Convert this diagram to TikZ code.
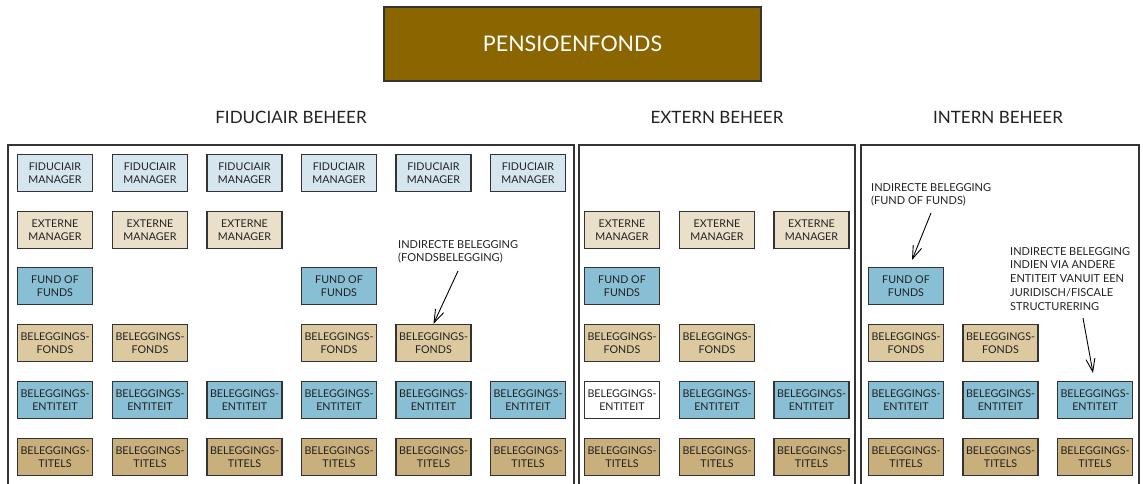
\documentclass[tikz,border=0pt]{standalone}
\usepackage{fontspec}
\setmainfont{Lato}
\usetikzlibrary{arrows.meta}
\definecolor{titlebg}{HTML}{8B6600}
\definecolor{fidc}{HTML}{D6E6EE}
\definecolor{extc}{HTML}{EAE0CA}
\definecolor{bluec}{HTML}{89BFD4}
\definecolor{fondc}{HTML}{DCC9A0}
\definecolor{titc}{HTML}{C8AF7C}
\definecolor{edge}{HTML}{333333}
\definecolor{txt}{HTML}{222222}
\begin{document}
\begin{tikzpicture}[x=1pt,y=-1pt,
  cell/.style={draw=edge,line width=1.3pt,minimum width=75pt,minimum height=37pt,inner sep=0pt,
    align=center,font=\fontsize{10.7}{13}\selectfont,text=txt},
  fid/.style={cell,fill=fidc},
  ext/.style={cell,fill=extc},
  fof/.style={cell,fill=bluec},
  fon/.style={cell,fill=fondc},
  ent/.style={cell,fill=bluec},
  entw/.style={cell,fill=white},
  tit/.style={cell,fill=titc},
  frame/.style={draw=edge,line width=1.3pt},
  sect/.style={font=\fontsize{17}{20}\selectfont,text=txt},
  note/.style={align=left,anchor=north west,inner sep=0pt,font=\fontsize{11}{13.8}\selectfont,text=txt},
  arr/.style={-{Straight Barb[length=13pt,width=9pt]},line width=0.9pt,black}]
\useasboundingbox (0,0) rectangle (1143,483);
% title
\node[draw=edge,line width=1.3pt,fill=titlebg,minimum width=377pt,minimum height=74pt,inner sep=0pt,
  text=white,font=\fontsize{21.5}{25}\selectfont] (pf) at (572.5,44) {PENSIOENFONDS};
% section titles
\node[sect] (s1) at (291,117) {FIDUCIAIR BEHEER};
\node[sect] (s2) at (717,117) {EXTERN BEHEER};
\node[sect] (s3) at (998,117) {INTERN BEHEER};
% frames
\coordinate (f1a) at (8,490); \coordinate (f1b) at (8,145); \coordinate (f1c) at (574,145); \coordinate (f1d) at (574,490);
\draw[frame] (f1a) -- (f1b) -- (f1c) -- (f1d);
\coordinate (f2a) at (579,490); \coordinate (f2b) at (579,145); \coordinate (f2c) at (855,145); \coordinate (f2d) at (855,490);
\draw[frame] (f2a) -- (f2b) -- (f2c) -- (f2d);
\coordinate (f3a) at (861,490); \coordinate (f3b) at (861,145); \coordinate (f3c) at (1139,145); \coordinate (f3d) at (1139,490);
\draw[frame] (f3a) -- (f3b) -- (f3c) -- (f3d);
% fiduciair beheer
\foreach \i/\x in {1/55,2/150,3/244.5,4/339,5/433.5,6/528}{
  \node[fid] (fm\i) at (\x,173) {FIDUCIAIR\\MANAGER};
  \node[ent] (fe\i) at (\x,400) {BELEGGINGS-\\ENTITEIT};
  \node[tit] (ft\i) at (\x,457) {BELEGGINGS-\\TITELS};
}
\foreach \i/\x in {1/55,2/150,3/244.5}{
  \node[ext] (fx\i) at (\x,230) {EXTERNE\\MANAGER};
}
\node[fof] (ff1) at (55,286) {FUND OF\\FUNDS};
\node[fof] (ff4) at (339,286) {FUND OF\\FUNDS};
\foreach \i/\x in {1/55,2/150,4/339,5/433.5}{
  \node[fon] (fb\i) at (\x,343) {BELEGGINGS-\\FONDS};
}
\node[note] (n1) at (398,240) {INDIRECTE BELEGGING\\(FONDSBELEGGING)};
\coordinate (n1s) at (458,271);
\draw[arr] (n1s) -- (fb5.north);
% extern beheer
\foreach \i/\x in {1/622,2/717,3/811.5}{
  \node[ext] (ex\i) at (\x,230) {EXTERNE\\MANAGER};
  \node[tit] (et\i) at (\x,457) {BELEGGINGS-\\TITELS};
}
\node[fof] (ef1) at (622,286) {FUND OF\\FUNDS};
\node[fon] (eb1) at (622,343) {BELEGGINGS-\\FONDS};
\node[fon] (eb2) at (717,343) {BELEGGINGS-\\FONDS};
\node[entw] (ee1) at (622,400) {BELEGGINGS-\\ENTITEIT};
\node[ent] (ee2) at (717,400) {BELEGGINGS-\\ENTITEIT};
\node[ent] (ee3) at (811.5,400) {BELEGGINGS-\\ENTITEIT};
% intern beheer
\node[fof] (if1) at (906,286) {FUND OF\\FUNDS};
\node[fon] (ib1) at (906,343) {BELEGGINGS-\\FONDS};
\node[fon] (ib2) at (1000.5,343) {BELEGGINGS-\\FONDS};
\foreach \i/\x in {1/906,2/1000.5,3/1095}{
  \node[ent] (ie\i) at (\x,400) {BELEGGINGS-\\ENTITEIT};
  \node[tit] (it\i) at (\x,457) {BELEGGINGS-\\TITELS};
}
\node[note] (n2) at (871,183) {INDIRECTE BELEGGING\\(FUND OF FUNDS)};
\coordinate (n2s) at (931,213);
\draw[arr] (n2s) -- (912,260);
\node[note] (n3) at (1010,247) {INDIRECTE BELEGGING\\INDIEN VIA ANDERE\\ENTITEIT VANUIT EEN\\JURIDISCH/FISCALE\\STRUCTURERING};
\coordinate (n3s) at (1083,318);
\draw[arr] (n3s) -- (1093,373);
\end{tikzpicture}
\end{document}
